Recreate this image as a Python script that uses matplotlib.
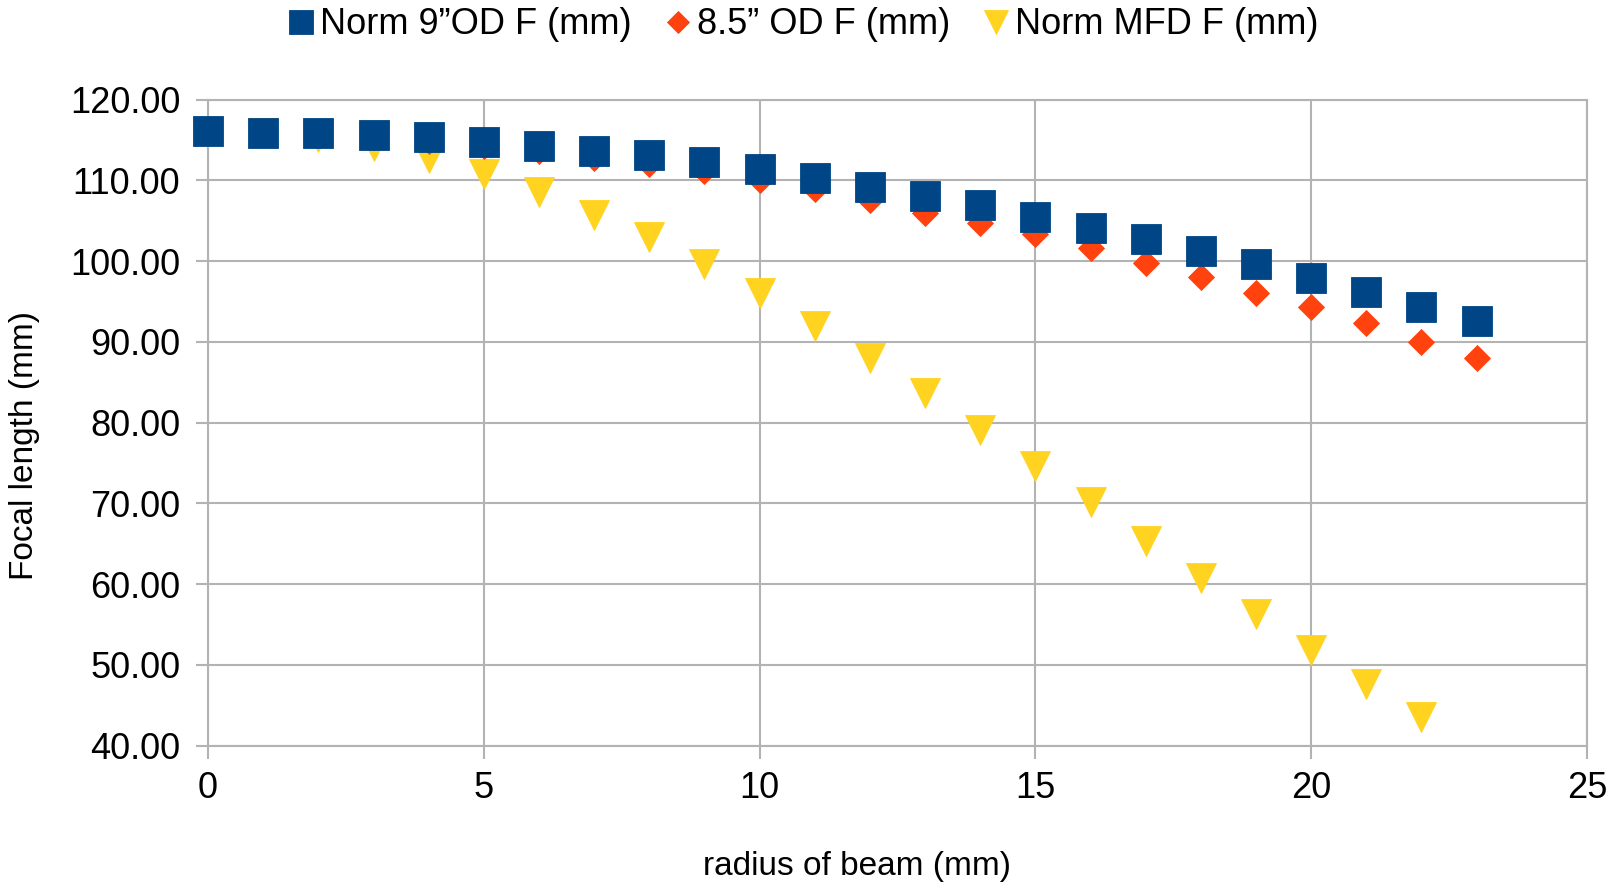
import numpy as np
import matplotlib
matplotlib.use("Agg")
import matplotlib.pyplot as plt

plt.rcParams["font.family"] = ["Liberation Sans", "DejaVu Sans"]

# Datos
radio = list(range(0, 24))
norm_9od = [116.1, 115.9, 115.9, 115.6, 115.4, 114.8, 114.3, 113.6, 113.1, 112.3,
            111.4, 110.3, 109.2, 108.1, 106.9, 105.5, 104.1, 102.7, 101.3, 99.6,
            97.9, 96.2, 94.3, 92.6]
od_85 = [116.0, 115.8, 115.6, 115.3, 114.9, 114.2, 113.6, 112.8, 112.0, 111.2,
         110.0, 108.9, 107.5, 106.0, 104.7, 103.3, 101.6, 99.7, 98.0, 96.1,
         94.3, 92.3, 90.0, 88.0]
radio_mfd = list(range(0, 23))
norm_mfd = [116.0, 115.8, 115.3, 114.2, 112.7, 110.8, 108.5, 105.7, 103.0, 99.6,
            96.0, 92.0, 88.0, 83.6, 79.1, 74.6, 70.1, 65.3, 60.8, 56.3,
            51.8, 47.6, 43.5]

etiquetas = ["Norm 9\u201dOD F (mm)", "8.5\u201d OD F (mm)", "Norm MFD F (mm)"]

GRIS = "#b3b3b3"

fig = plt.figure(figsize=(16.19, 8.83), dpi=100)
ax = fig.add_axes([0.1285, 0.1557, 0.8517, 0.7316])

h1, = ax.plot(radio, norm_9od, "s", color="#004586", markersize=21,
              markeredgewidth=0.6, markeredgecolor="#004586", zorder=5,
              clip_on=False, label=etiquetas[0])
h2, = ax.plot(radio, od_85, "D", color="#ff420e", markersize=13,
              markeredgewidth=0.6, markeredgecolor="#ff420e", zorder=4,
              clip_on=False, label=etiquetas[1])
h3, = ax.plot(radio_mfd, norm_mfd, "v", color="#ffd320", markersize=21,
              markeredgewidth=0.6, markeredgecolor="#ffd320", zorder=3,
              clip_on=False, label=etiquetas[2])

ax.set_xlim(0, 25)
ax.set_ylim(40, 120)
ax.set_xticks(range(0, 26, 5))
ax.set_yticks(range(40, 121, 10))
ax.yaxis.set_major_formatter(matplotlib.ticker.FormatStrFormatter("%.2f"))

ax.grid(True, color=GRIS, linewidth=1.5)
ax.set_axisbelow(True)
for s in ax.spines.values():
    s.set_color(GRIS)
    s.set_linewidth(1.5)

ax.tick_params(axis="both", which="major", length=9, width=1.5, color=GRIS,
               labelsize=26, labelcolor="black")
ax.tick_params(axis="y", pad=11)
ax.tick_params(axis="x", pad=9)

fig.text(25 / 1619, 1 - 445 / 883, "Focal length (mm)", rotation=90,
         ha="center", va="center", fontsize=24)
fig.text(857 / 1619, 1 - 866 / 883, "radius of beam (mm)",
         ha="center", va="center", fontsize=24)

fig.legend(handles=[h1, h2, h3], labels=etiquetas, loc="center",
           bbox_to_anchor=(803 / 1619, 1 - 25 / 883), ncol=3, frameon=False,
           fontsize=26, markerscale=0.85, handlelength=0.75, handletextpad=0.15,
           columnspacing=0.9, borderpad=0)

fig.savefig("out.png", dpi=100)
